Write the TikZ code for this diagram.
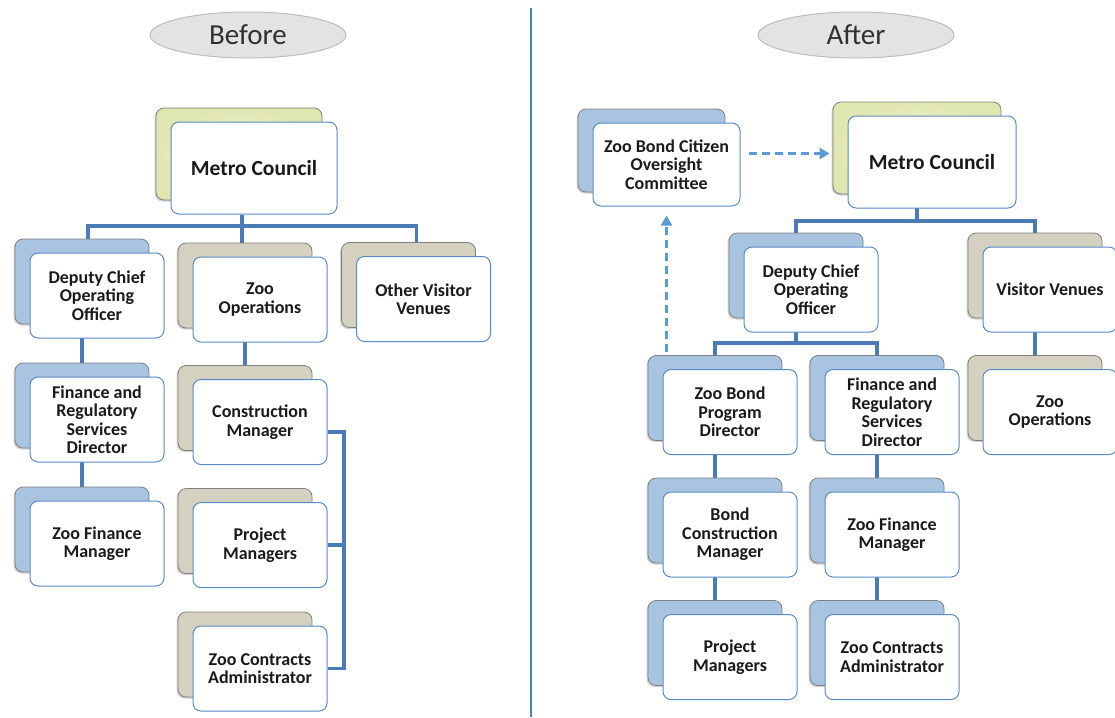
\documentclass[tikz,border=0pt]{standalone}
\usepackage{fontspec}
\setmainfont{Carlito}
\usetikzlibrary{shadows,arrows.meta,shapes.geometric,backgrounds}
\definecolor{frontc}{HTML}{5A8AC6}
\definecolor{backline}{HTML}{7F7F7F}
\definecolor{bblue}{HTML}{A9C4E0}
\definecolor{btan}{HTML}{D5D1C0}
\definecolor{ginner}{HTML}{F6F8E4}
\definecolor{gouter}{HTML}{E0E6B0}
\definecolor{connc}{HTML}{4A7BB7}
\definecolor{dashc}{HTML}{5B9BD5}
\definecolor{txt}{HTML}{1A1A1A}
\definecolor{ellfill}{HTML}{E3E3E3}
\definecolor{ellline}{HTML}{BDBDBD}
\definecolor{divc}{HTML}{4F81BD}
\newcommand\boxfont{\bfseries\fontsize{18}{18.5}\selectfont}
\newcommand\bigboxfont{\bfseries\fontsize{21.5}{23}\selectfont}
\tikzset{
  cardsize/.style={minimum width=134pt, minimum height=85pt},
  front/.style={draw=frontc, line width=1pt, fill=white, rounded corners=8pt,
    inner sep=0pt, align=center, font=\boxfont, text=txt},
  backcard/.style={draw=backline, line width=0.8pt, rounded corners=8pt, inner sep=0pt,
    drop shadow={shadow xshift=-1.5pt, shadow yshift=-1.5pt, opacity=0.35}},
  bblue/.style={backcard, fill=bblue},
  btan/.style={backcard, fill=btan},
  bgreen/.style={backcard, inner color=ginner, outer color=gouter},
  conn/.style={draw=connc, line width=3.2pt},
  dasharr/.style={draw=dashc, line width=3pt, dash pattern=on 8pt off 5pt,
    -{Triangle[length=10pt,width=11pt]}},
  titleell/.style={ellipse, draw=ellline, fill=ellfill, line width=1pt,
    minimum width=196pt, minimum height=46pt, inner sep=0pt,
    font=\fontsize{29}{30}\selectfont, text=txt!90},
  divider/.style={draw=divc, line width=1.2pt}
}
% name, x, y, back style, text, size options
\newcommand\orgcard[6]{%
  \node[#4,#6] (#1-b) at (#2-15,#3-14) {};
  \node[front,#6] (#1) at (#2,#3) {#5};
}
\begin{document}
\begin{tikzpicture}[x=1pt,y=-1pt]
\useasboundingbox (0,0) rectangle (1115,717);

% titles and divider
\node[titleell] (tb) at (248,35) {Before};
\node[titleell] (ta) at (856,35) {After};
\coordinate (dv1) at (531,8);
\coordinate (dv2) at (531,717);
\draw[divider] (dv1) -- (dv2);

% ---------------- Before ----------------
\orgcard{mcb}{254}{168}{bgreen}{\bigboxfont Metro Council}{minimum width=166pt, minimum height=92pt}
\orgcard{dcoo}{97}{295.5}{bblue}{Deputy Chief\\Operating\\Officer}{cardsize}
\orgcard{zob}{260}{299.5}{btan}{Zoo\\Operations}{cardsize}
\orgcard{ovv}{423.5}{299}{btan}{Other Visitor\\Venues}{cardsize}
\orgcard{fin}{97}{419.5}{bblue}{Finance and\\Regulatory\\Services\\Director}{cardsize}
\orgcard{zfm}{97}{543.5}{bblue}{Zoo Finance\\Manager}{cardsize}
\orgcard{cm}{260}{422}{btan}{Construction\\Manager}{cardsize}
\orgcard{pm}{260}{545}{btan}{Project\\Managers}{cardsize}
\orgcard{zca}{260}{668.5}{btan}{Zoo Contracts\\Administrator}{cardsize}

% ---------------- After ----------------
\orgcard{zbcoc}{666.5}{164.5}{bblue}{Zoo Bond Citizen\\Oversight\\Committee}{minimum width=147pt, minimum height=83pt}
\orgcard{mca}{932}{162}{bgreen}{\bigboxfont Metro Council}{minimum width=168pt, minimum height=92pt}
\orgcard{dcooa}{811}{289.5}{bblue}{Deputy Chief\\Operating\\Officer}{cardsize}
\orgcard{vv}{1050}{289.5}{btan}{Visitor Venues}{cardsize}
\orgcard{zoa}{1050}{412}{btan}{Zoo\\Operations}{cardsize}
\orgcard{zbpd}{730}{412}{bblue}{Zoo Bond\\Program\\Director}{cardsize}
\orgcard{fina}{892}{412}{bblue}{Finance and\\Regulatory\\Services\\Director}{cardsize}
\orgcard{bcm}{730}{534.5}{bblue}{Bond\\Construction\\Manager}{cardsize}
\orgcard{zfma}{892}{534.5}{bblue}{Zoo Finance\\Manager}{cardsize}
\orgcard{pma}{730}{657}{bblue}{Project\\Managers}{cardsize}
\orgcard{zcaa}{892}{657}{bblue}{Zoo Contracts\\Administrator}{cardsize}

% helper coordinates
\coordinate (barb) at (0,226);
\coordinate (bara) at (0,221);
\coordinate (barc) at (0,343);
\coordinate (brx) at (344,0);
\coordinate (t1) at ([xshift=-9pt]dcoo.north);
\coordinate (t2) at ([xshift=-12pt]mcb.south);
\coordinate (t3) at ([xshift=-7pt]ovv.north);
\coordinate (c1) at ([yshift=-10pt]cm.east);

\begin{pgfonlayer}{background}
  % Before connectors
  \draw[conn] (t2) -- (t2 |- zob.north);
  \draw[conn] (t1) |- (t3 |- barb) -- (t3);
  \draw[conn] (dcoo-b.center) -- (fin-b.center) -- (zfm-b.center);
  \draw[conn] (zob-b.center) -- (cm-b.center);
  % After connectors
  \draw[conn] (mca-b.center) -- (mca-b.center |- bara);
  \draw[conn] (dcooa-b.center) |- (vv-b.center |- bara) -- (vv-b.center);
  \draw[conn] (dcooa-b.center) -- (dcooa-b.center |- barc);
  \draw[conn] (zbpd-b.center) |- (fina-b.center |- barc) -- (fina-b.center);
  \draw[conn] (zbpd-b.center) -- (bcm-b.center) -- (pma-b.center);
  \draw[conn] (fina-b.center) -- (zfma-b.center) -- (zcaa-b.center);
  \draw[conn] (vv-b.center) -- (zoa-b.center);
\end{pgfonlayer}

% bracket (Before)
\draw[conn] (c1) -- (c1 -| brx) -- (zca.east -| brx) -- (zca.east);
\draw[conn] (pm.east) -- (pm.east -| brx);

% dashed arrows (After)
\coordinate (d1) at ([xshift=8pt,yshift=11pt]zbcoc.east);
\draw[dasharr, shorten >=3pt] (d1) -- (d1 -| mca-b.west);
\coordinate (d2) at (zbcoc.south |- zbpd-b.north);
\draw[dasharr, shorten <=3pt, shorten >=9pt] (d2) -- (zbcoc.south);
\end{tikzpicture}
\end{document}
